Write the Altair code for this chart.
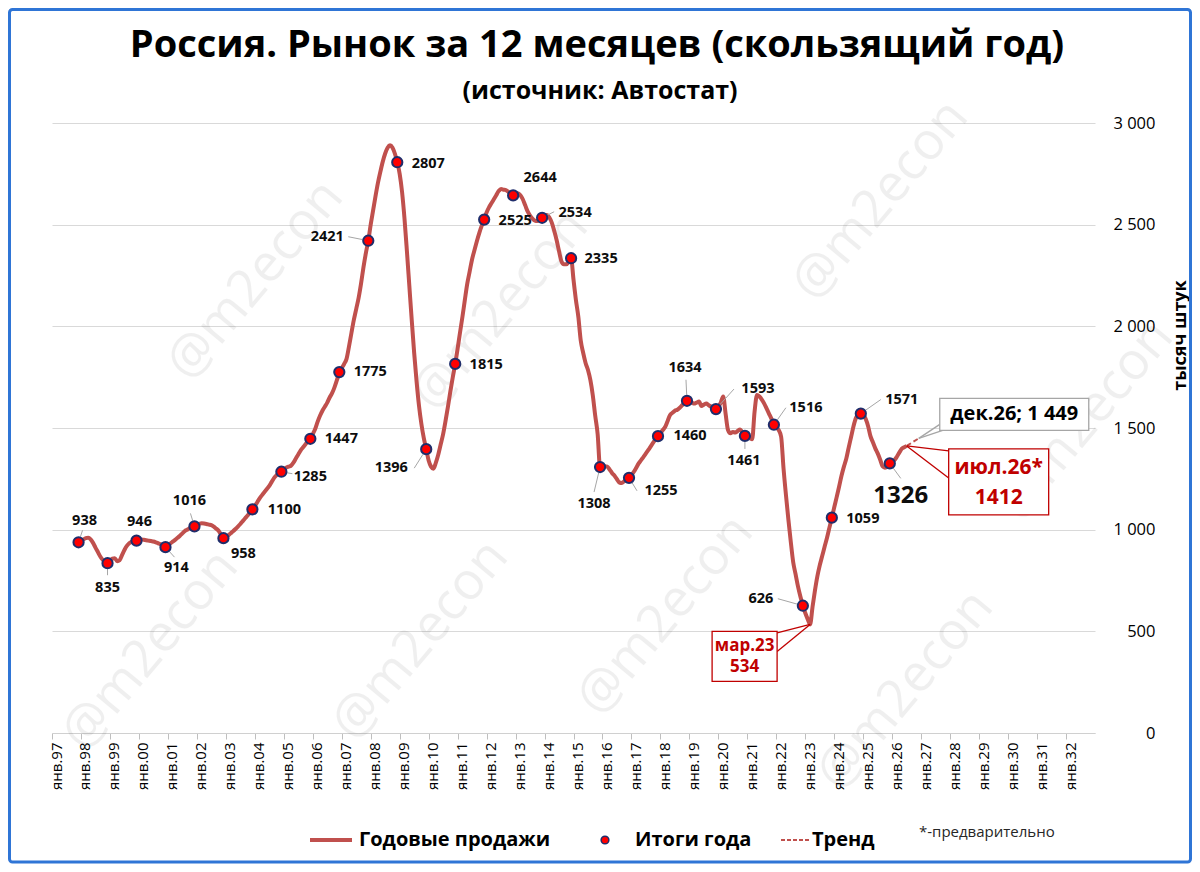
import math
import altair as alt
import pandas as pd

FONT = "Open Sans"

# ---------------- data ----------------
rolling_start_year, rolling_start_month = 1997, 12
rolling_sales = [
    938,
    945, 952, 958, 960, 952, 935, 912, 890, 868, 852, 842, 835,          # 1998
    848, 858, 860, 845, 850, 875, 900, 920, 933, 940, 945, 946,          # 1999
    950, 952, 950, 948, 946, 944, 942, 938, 933, 928, 920, 914,          # 2000
    922, 932, 941, 950, 960, 970, 982, 993, 1000, 1007, 1012, 1016,      # 2001
    1022, 1028, 1031, 1030, 1028, 1025, 1022, 1015, 1005, 995, 975, 958, # 2002
    962, 972, 982, 992, 1003, 1015, 1028, 1042, 1056, 1070, 1085, 1100,  # 2003
    1115, 1135, 1154, 1170, 1185, 1200, 1215, 1235, 1255, 1268, 1278, 1285,  # 2004
    1295, 1305, 1310, 1315, 1330, 1350, 1370, 1390, 1405, 1420, 1435, 1447,  # 2005
    1470, 1495, 1530, 1560, 1585, 1605, 1625, 1650, 1671, 1700, 1735, 1775,  # 2006
    1795, 1815, 1840, 1900, 1966, 2030, 2085, 2140, 2210, 2290, 2360, 2421,  # 2007
    2500, 2570, 2640, 2705, 2760, 2810, 2850, 2878, 2890, 2880, 2850, 2807,  # 2008
    2750, 2660, 2530, 2370, 2200, 2030, 1870, 1730, 1610, 1520, 1450, 1396,  # 2009
    1340, 1310, 1300, 1330, 1370, 1420, 1470, 1535, 1605, 1680, 1750, 1815,  # 2010
    1890, 1970, 2047, 2130, 2210, 2270, 2330, 2375, 2420, 2460, 2495, 2525,  # 2011
    2560, 2585, 2605, 2625, 2645, 2665, 2675, 2672, 2670, 2662, 2650, 2644,  # 2012
    2650, 2655, 2645, 2625, 2595, 2565, 2545, 2530, 2520, 2518, 2525, 2534,  # 2013
    2545, 2548, 2535, 2510, 2470, 2425, 2370, 2320, 2305, 2305, 2315, 2335,  # 2014
    2230, 2130, 2047, 1930, 1870, 1820, 1785, 1735, 1660, 1560, 1470, 1308,  # 2015
    1310, 1312, 1310, 1295, 1278, 1265, 1248, 1232, 1230, 1238, 1248, 1255,  # 2016
    1268, 1285, 1305, 1326, 1342, 1358, 1375, 1392, 1410, 1428, 1445, 1460,  # 2017
    1475, 1490, 1506, 1535, 1564, 1575, 1585, 1590, 1600, 1612, 1624, 1634,  # 2018
    1630, 1625, 1620, 1625, 1630, 1608, 1615, 1620, 1612, 1605, 1600, 1593,  # 2019
    1605, 1625, 1655, 1570, 1490, 1474, 1480, 1478, 1485, 1493, 1478, 1461,  # 2020
    1455, 1450, 1445, 1580, 1662, 1655, 1640, 1620, 1595, 1570, 1545, 1516,  # 2021
    1505, 1490, 1457, 1300, 1170, 1050, 940, 840, 780, 720, 670, 626,        # 2022
    590, 560, 534, 620, 700, 770, 825, 870, 916, 960, 1010, 1059,            # 2023
    1110, 1160, 1211, 1265, 1310, 1350, 1405, 1457, 1510, 1550, 1565, 1571,  # 2024
    1568, 1545, 1510, 1460, 1430, 1400, 1375, 1345, 1312, 1305, 1310, 1326,  # 2025
    1335, 1343, 1360, 1380, 1398, 1405, 1412,                                # 2026
]

annual_years = list(range(1997, 2026))
annual_totals = [938, 835, 946, 914, 1016, 958, 1100, 1285, 1447, 1775, 2421, 2807,
                 1396, 1815, 2525, 2644, 2534, 2335, 1308, 1255, 1460, 1634, 1593,
                 1461, 1516, 626, 1059, 1571, 1326]

trend_points = [(2026, 7), (2026, 12)]
trend_values = [1412, 1449]

x_tick_years = list(range(1997, 2033))
y_tick_values = [0, 500, 1000, 1500, 2000, 2500, 3000]

title_text = "Россия. Рынок за 12 месяцев (скользящий год)"
subtitle_text = "(источник: Автостат)"
y_title = "тысяч штук"
legend_texts = ["Годовые продажи", "Итоги года", "Тренд"]
footnote_text = "*-предварительно"
watermark_text = "@m2econ"

callout_min = ("мар.23", "534", (2023, 3), 534)
callout_jul = ("июл.26*", "1412", (2026, 7), 1412)
callout_dec = ("дек.26; 1 449", (2026, 12), 1449)

# ---------------- layout (pixels) ----------------
W, H = 1043, 610
PAD = {"left": 44, "top": 115, "right": 97, "bottom": 131}
OX, OY = 8 + PAD["left"], 8 + PAD["top"]      # page position of plot origin
X0, X1 = 1997, 2033
PX = W / (X1 - X0)        # px per year
PY = H / 3000             # px per unit

# pixel offsets of each annual label from its point, and optional leader end
label_offsets = {
    1997: (6, -21, (4, -12)), 1998: (0, 25, (0, 12)), 1999: (3, -19, None),
    2000: (11, 21, (9, 10)), 2001: (-5, -25, (-4, -13)), 2002: (20, 16, None),
    2003: (32, 1, None), 2004: (29, 5, (11, 2)), 2005: (31, 0, None),
    2006: (31, 0, None), 2007: (-41, -4, (-20, -4)), 2008: (31, 2, None),
    2009: (-35, 19, (-12, 19)), 2010: (31, 1, None), 2011: (31, 1, None),
    2012: (27, -17, None), 2013: (33, -5, (12, -6)), 2014: (30, 1, None),
    2015: (-6, 37, (-6, 25)), 2016: (32, 13, (8, 13)), 2017: (32, 0, None),
    2018: (-2, -33, (-1, -21)), 2019: (42, -20, (18, -20)), 2020: (-1, 25, (0, 13)),
    2021: (32, -17, (12, -17)), 2022: (-42, -7, (-25, -7)), 2023: (31, 1, None),
    2024: (41, -14, (20, -14)), 2025: (11, 33, (11, 15)),
}
BIG_LABEL_YEAR = 2025

watermark_pos = [(255, 280), (500, 310), (880, 200), (1085, 420),
                 (150, 650), (420, 640), (665, 615), (905, 690)]


def t_of(year, month):
    return year + (month - 1) / 12


def off(t, v, dx, dy):
    return t + dx / PX, v - dy / PY


def page_to_data(px, py):
    return X0 + (px - OX) / PX, 3000 - (py - OY) / PY


# ---------------- frames ----------------
rows = []
yr, mo = rolling_start_year, rolling_start_month
for val in rolling_sales:
    rows.append({"t": t_of(yr, mo), "v": val})
    mo += 1
    if mo > 12:
        mo, yr = 1, yr + 1
line_df = pd.DataFrame(rows)

trend_df = pd.DataFrame({"t": [t_of(*p) for p in trend_points], "v": trend_values})

pts_df = pd.DataFrame({"t": [y + 11 / 12 for y in annual_years], "v": annual_totals})

lab_rows, lead_rows = [], []
for y, val in zip(annual_years, annual_totals):
    t = y + 11 / 12
    dx, dy, lead = label_offsets[y]
    lt, lv = off(t, val, dx, dy)
    lab_rows.append({"t": lt, "v": lv, "txt": str(val), "big": y == BIG_LABEL_YEAR})
    if lead:
        ex, ey = lead
        n = math.hypot(ex, ey)
        sx, sy = ex / n * 6, ey / n * 6
        a = off(t, val, sx, sy)
        b = off(t, val, ex, ey)
        lead_rows.append({"t": a[0], "v": a[1], "t2": b[0], "v2": b[1]})
lab_df = pd.DataFrame(lab_rows)
lead_df = pd.DataFrame(lead_rows)

# callouts
ta, va = t_of(*callout_min[2]), callout_min[3]
tj, vj = t_of(*callout_jul[2]), callout_jul[3]
td, vd = t_of(*callout_dec[1]), callout_dec[2]


def rect_row(t, v, x1, x2, y1, y2, stroke):
    a = off(t, v, x1, y1)
    b = off(t, v, x2, y2)
    return {"t": a[0], "v": a[1], "t2": b[0], "v2": b[1], "stroke": stroke}


box_df = pd.DataFrame([
    rect_row(ta, va, -98, -33, 7, 57, "#C00000"),
    rect_row(tj, vj, 42, 142, 3, 69, "#C00000"),
    rect_row(td, vd, 21, 170, -40, -8, "#A6A6A6"),
])


def seg(t, v, ex, ey, color):
    b = off(t, v, ex, ey)
    return {"t": t, "v": v, "t2": b[0], "v2": b[1], "c": color}


callout_lead_df = pd.DataFrame([
    seg(ta, va, -35, 9, "#C00000"), seg(ta, va, -33, 27, "#C00000"),
    seg(tj, vj, 42, 5, "#C00000"), seg(tj, vj, 42, 32, "#C00000"),
    seg(td, vd, 21, -14, "#A6A6A6"), seg(td, vd, 24, -8, "#A6A6A6"),
])


def txt_row(t, v, dx, dy, text, size, color):
    p = off(t, v, dx, dy)
    return {"t": p[0], "v": p[1], "txt": text, "size": size, "c": color}


callout_txt_df = pd.DataFrame([
    txt_row(ta, va, -65.5, 22, callout_min[0], 17, "#C00000"),
    txt_row(ta, va, -65.5, 43, callout_min[1], 17, "#C00000"),
    txt_row(tj, vj, 92, 22, callout_jul[0], 21, "#C00000"),
    txt_row(tj, vj, 92, 52, callout_jul[1], 21, "#C00000"),
    txt_row(td, vd, 95.5, -24, callout_dec[0], 20, "#000000"),
])

wm = [page_to_data(px, py) for px, py in watermark_pos]
wm_df = pd.DataFrame({"t": [w[0] for w in wm], "v": [w[1] for w in wm], "txt": watermark_text})

# ---------------- scales / axes (shared by every layer) ----------------
xs = alt.Scale(domain=[X0, X1], nice=False, zero=False)
ys = alt.Scale(domain=[0, 3000], nice=False)

x_axis = alt.Axis(
    values=x_tick_years, title=None, grid=False,
    labelExpr="'янв.' + substring(toString(datum.value), 2, 4)",
    labelAngle=270, labelAlign="right", labelBaseline="middle",
    labelOffset=4, labelPadding=3, labelFont=FONT, labelFontSize=15,
    labelColor="#000000", labelFlush=False, labelOverlap=False,
    domainColor="#D0D0D0", tickColor="#BFBFBF", tickSize=6)

y_axis = alt.Axis(
    orient="right", values=y_tick_values,
    labelExpr="replace(format(datum.value, ','), ',', ' ')",
    grid=True, gridColor="#D9D9D9", gridWidth=1, domain=False,
    ticks=False, tickSize=0, labelAlign="right", labelBaseline="middle",
    labelPadding=60, labelFont=FONT, labelFontSize=16.5, labelColor="#000000",
    labelFlush=False,
    title=y_title, titleAngle=270, titleX=85, titleY=212,
    titleAlign="center", titleBaseline="middle", titleFont=FONT,
    titleFontSize=18, titleFontWeight="bold", titleColor="#000000")


def X(f="t:Q"):
    return alt.X(f, scale=xs, axis=x_axis)


def Y(f="v:Q"):
    return alt.Y(f, scale=ys, axis=y_axis)


watermark = alt.Chart(wm_df).mark_text(
    font=FONT, fontSize=52, angle=310, color="#000000", opacity=0.06
).encode(x=X(), y=Y(), text="txt:N")

line = alt.Chart(line_df).mark_line(
    color="#C0504D", strokeWidth=4, interpolate="monotone"
).encode(x=X(), y=Y())

trend = alt.Chart(trend_df).mark_line(
    color="#C0504D", strokeWidth=2, strokeDash=[5, 3]
).encode(x=X(), y=Y())

leaders = alt.Chart(lead_df).mark_rule(color="#A6A6A6", strokeWidth=1).encode(
    x=X(), y=Y(), x2="t2:Q", y2="v2:Q")

points = alt.Chart(pts_df).mark_circle(
    size=105, color="#FF0000", opacity=1, stroke="#1F2D6B", strokeWidth=2
).encode(x=X(), y=Y())

labels = alt.Chart(lab_df).transform_filter("!datum.big").mark_text(
    font=FONT, fontSize=14.5, fontWeight="bold", color="#0D0D0D",
    align="center", baseline="middle"
).encode(x=X(), y=Y(), text="txt:N")

big_label = alt.Chart(lab_df).transform_filter("datum.big").mark_text(
    font=FONT, fontSize=24, fontWeight="bold", color="#0D0D0D",
    align="center", baseline="middle"
).encode(x=X(), y=Y(), text="txt:N")

c_leads = alt.Chart(callout_lead_df).mark_rule(strokeWidth=1.3).encode(
    x=X(), y=Y(), x2="t2:Q", y2="v2:Q",
    color=alt.Color("c:N", scale=None))

boxes = alt.Chart(box_df).mark_rect(fill="#FFFFFF", strokeWidth=1.3).encode(
    x=X(), y=Y(), x2="t2:Q", y2="v2:Q",
    stroke=alt.Stroke("stroke:N", scale=None))

c_texts = alt.Chart(callout_txt_df).mark_text(
    font=FONT, fontWeight="bold", align="center", baseline="middle"
).encode(x=X(), y=Y(), text="txt:N",
         size=alt.Size("size:Q", scale=None),
         color=alt.Color("c:N", scale=None))

one = pd.DataFrame({"k": [0]})


def px(page_x):
    return alt.value(page_x - OX)


def py(page_y):
    return alt.value(page_y - OY)


title = alt.Chart(one).mark_text(
    font=FONT, fontSize=38, fontWeight="bold", color="#000000",
    align="center", baseline="middle", text=title_text
).encode(x=px(597), y=py(46))

subtitle = alt.Chart(one).mark_text(
    font=FONT, fontSize=25, fontWeight="bold", color="#000000",
    align="center", baseline="middle", text=subtitle_text
).encode(x=px(600), y=py(91))

LY = 840
leg_line = alt.Chart(one).mark_rule(color="#C0504D", strokeWidth=4).encode(
    x=px(310), x2=px(352), y=py(LY))
leg_t1 = alt.Chart(one).mark_text(
    font=FONT, fontSize=20, fontWeight="bold", color="#000000",
    align="left", baseline="middle", text=legend_texts[0]
).encode(x=px(359), y=py(LY))
leg_dot = alt.Chart(one).mark_circle(
    size=60, color="#FF0000", opacity=1, stroke="#1F2D6B", strokeWidth=1.5
).encode(x=px(605), y=py(LY))
leg_t2 = alt.Chart(one).mark_text(
    font=FONT, fontSize=20, fontWeight="bold", color="#000000",
    align="left", baseline="middle", text=legend_texts[1]
).encode(x=px(635), y=py(LY))
leg_dash = alt.Chart(one).mark_rule(color="#C0504D", strokeWidth=2, strokeDash=[4, 2]).encode(
    x=px(781), x2=px(811), y=py(LY))
leg_t3 = alt.Chart(one).mark_text(
    font=FONT, fontSize=20, fontWeight="bold", color="#000000",
    align="left", baseline="middle", text=legend_texts[2]
).encode(x=px(812), y=py(LY))
leg_note = alt.Chart(one).mark_text(
    font=FONT, fontSize=15, color="#262626",
    align="left", baseline="middle", text=footnote_text
).encode(x=px(919), y=py(832))

frame = alt.Chart(one).mark_rect(
    fillOpacity=0, stroke="#2F75D6", strokeWidth=3, cornerRadius=3
).encode(x=px(9.5), x2=px(1190.5), y=py(9.5), y2=py(862))

chart = alt.layer(
    watermark, frame, line, trend, leaders, points, labels, big_label,
    c_leads, boxes, c_texts, title, subtitle,
    leg_line, leg_t1, leg_dot, leg_t2, leg_dash, leg_t3, leg_note,
).properties(
    width=W, height=H, padding=PAD,
    autosize=alt.AutoSizeParams(type="none"),
    background="#FFFFFF",
).configure_view(stroke="transparent")

chart.save("out.html", embed_options={"renderer": "svg", "actions": False})
